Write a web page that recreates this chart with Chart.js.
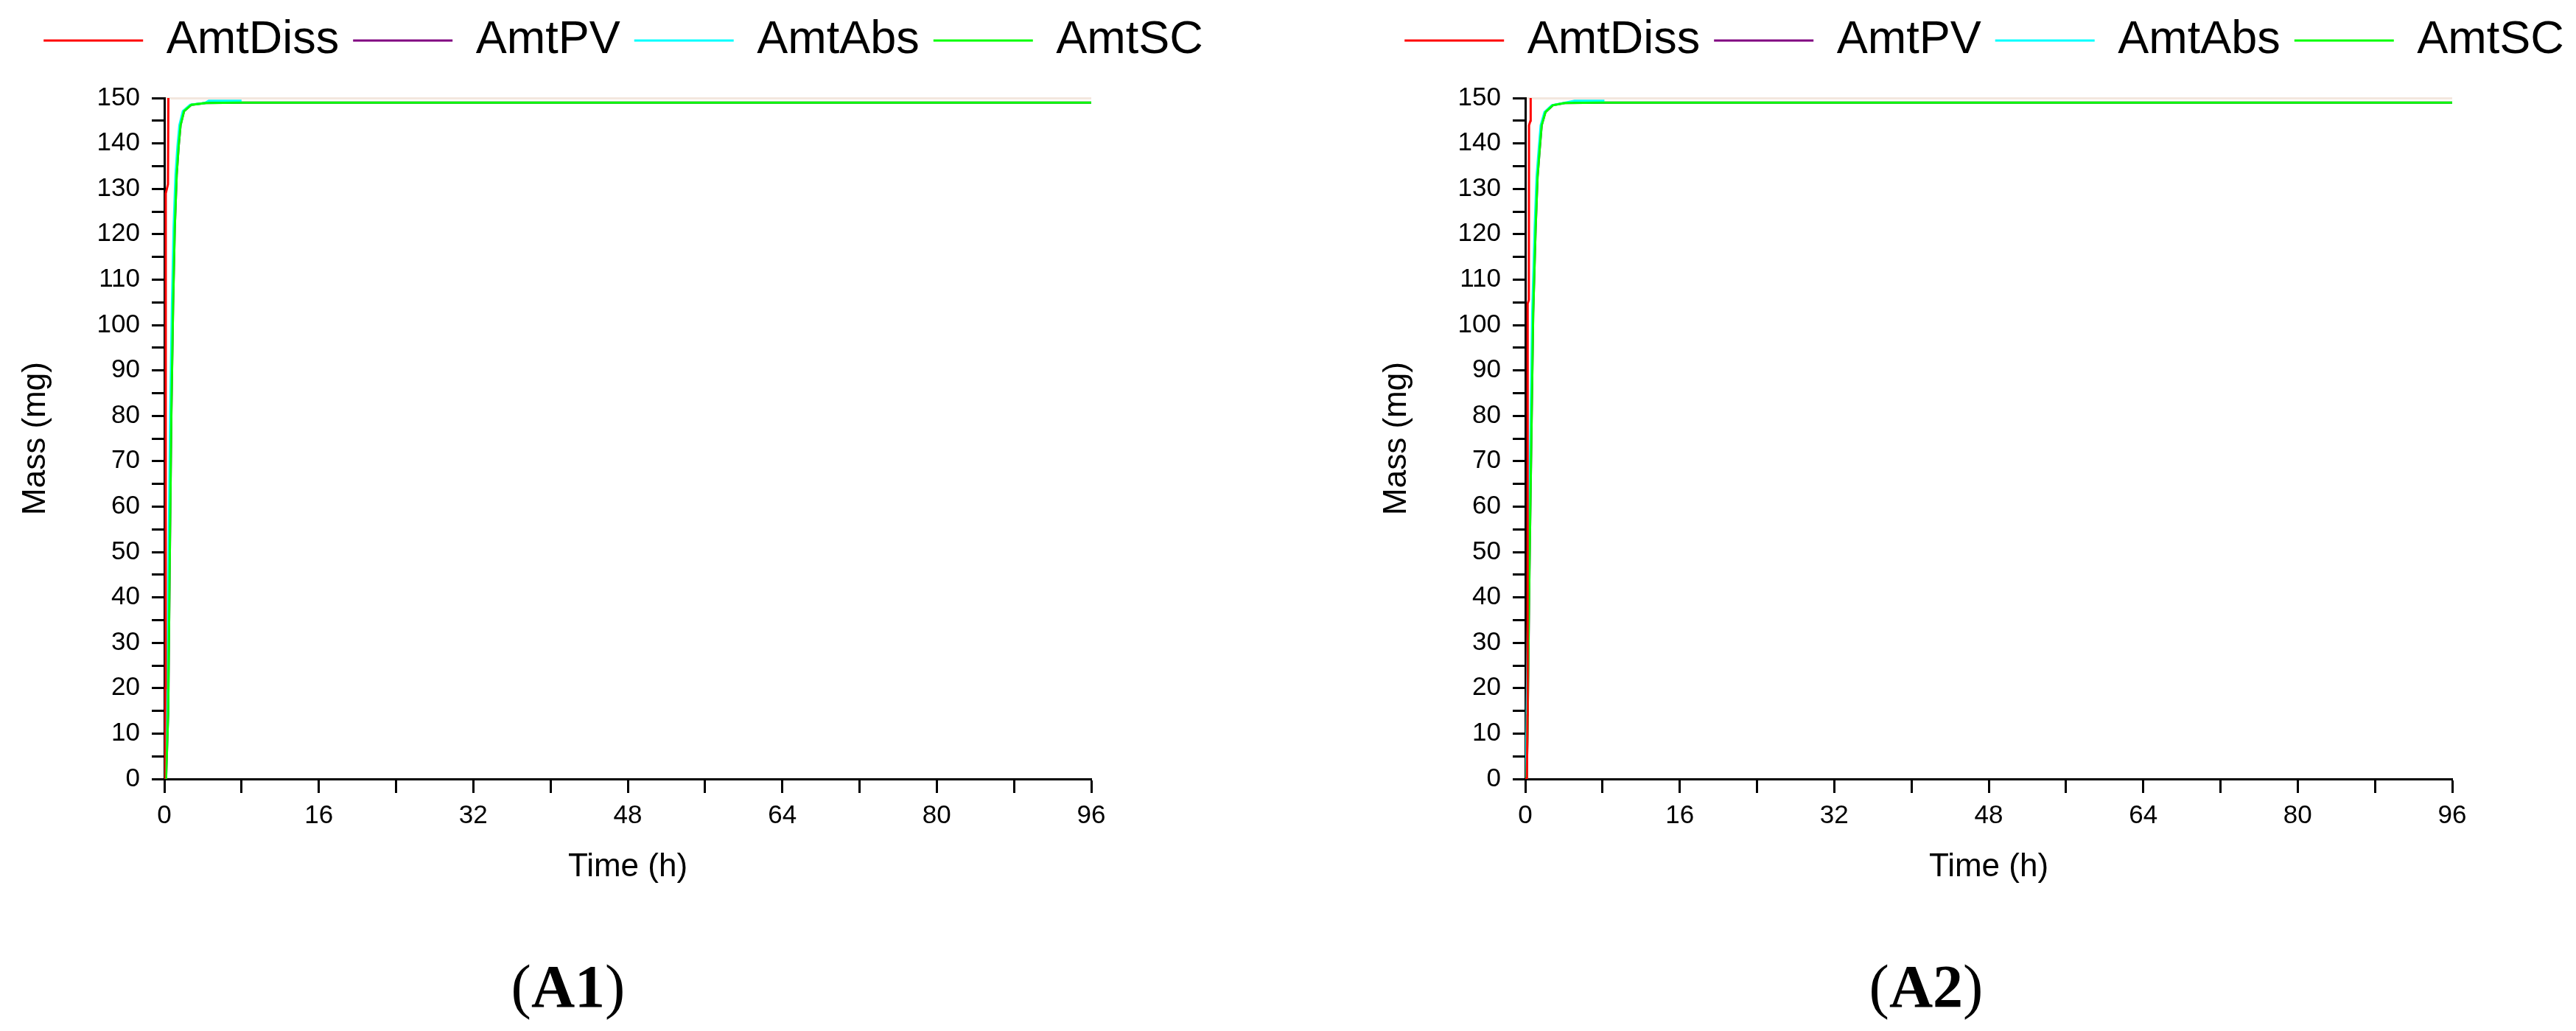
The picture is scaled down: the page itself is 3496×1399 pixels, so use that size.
<!DOCTYPE html>
<html lang="en">
<head>
    <meta charset="UTF-8">
    <title>Mass vs Time</title>
    <style>
        body { margin: 0; background: #fff; overflow: hidden; width: 3496px; height: 1399px; position: relative; }
        .panel { position: absolute; top: 0; }
        .caption {
            position: absolute;
            transform: translate(-50%, -50%);
            font-family: "Liberation Serif", "Times New Roman", serif;
            font-size: 82px;
            color: #000;
            white-space: nowrap;
        }
    </style>
    <script src="https://cdn.jsdelivr.net/npm/chart.js"></script>
</head>
<body>
    <div class="panel" style="left:0px"><canvas id="chartA1" width="1692" height="1230"></canvas></div>
    <div class="panel" style="left:1847px"><canvas id="chartA2" width="1692" height="1230"></canvas></div>
    <div class="caption" style="left:771px; top:1339px">(<b>A1</b>)</div>
    <div class="caption" style="left:2614px; top:1339px">(<b>A2</b>)</div>

<script>
    // series names (legend order)
    const seriesNames = ['AmtDiss', 'AmtPV', 'AmtAbs', 'AmtSC'];
    const seriesColors = ['#ff0000', '#800080', '#00ffff', '#00ff00'];

    // axis ticks
    const xTicks = [0, 16, 32, 48, 64, 80, 96];
    const yTicks = [0, 10, 20, 30, 40, 50, 60, 70, 80, 90, 100, 110, 120, 130, 140, 150];

    // panel A1 - time (h) / mass (mg)
    const diss1T = [0, 0.12, 0.15, 0.38, 0.42, 0.5];
    const diss1M = [0, 20, 129, 131, 150, 150];
    const pv1T = [0, 0.18, 0.4, 0.58, 0.73, 0.91, 1.08, 1.28, 1.48, 1.68, 2.04, 2.8, 4.3, 8, 96];
    const pv1M = [0, 0, 14.6, 51.8, 80.8, 104.6, 121.3, 133.1, 139.3, 144.0, 147.1, 148.5, 148.9, 149, 149];
    const abs1T = [0, 0.06, 0.28, 0.46, 0.61, 0.79, 0.96, 1.16, 1.36, 1.56, 1.92, 2.68, 4.2, 4.6, 8];
    const abs1M = [0, 0, 14.6, 51.8, 80.8, 104.6, 121.3, 133.1, 139.3, 144.0, 147.1, 148.5, 148.9, 149.4, 149.4];
    const sc1T = [0, 0.18, 0.4, 0.58, 0.73, 0.91, 1.08, 1.28, 1.48, 1.68, 2.04, 2.8, 4.3, 8, 96];
    const sc1M = [0, 0, 14.6, 51.8, 80.8, 104.6, 121.3, 133.1, 139.3, 144.0, 147.1, 148.5, 148.9, 149, 149];

    // panel A2
    const diss2T = [0, 0.17, 0.23, 0.25, 0.37, 0.39, 0.54, 0.56, 0.65];
    const diss2M = [0, 0, 14, 104.7, 105.5, 144, 145, 150, 150];
    const pv2T = [0, 0.15, 0.23, 0.43, 0.64, 0.82, 1.07, 1.27, 1.5, 1.7, 2.09, 2.85, 4.1, 8, 96];
    const pv2M = [0, 0, 10.4, 45.6, 76.7, 102.6, 121.2, 132.6, 138.9, 144.0, 146.9, 148.4, 148.9, 149, 149];
    const abs2T = [0, 0.05, 0.13, 0.33, 0.54, 0.72, 0.97, 1.17, 1.4, 1.6, 1.99, 2.75, 4.0, 5.1, 8.2];
    const abs2M = [0, 0, 10.4, 45.6, 76.7, 102.6, 121.2, 132.6, 138.9, 144.0, 146.9, 148.4, 148.9, 149.4, 149.4];
    const sc2T = [0, 0.15, 0.23, 0.43, 0.64, 0.82, 1.07, 1.27, 1.5, 1.7, 2.09, 2.85, 4.1, 8, 96];
    const sc2M = [0, 0, 10.4, 45.6, 76.7, 102.6, 121.2, 132.6, 138.9, 144.0, 146.9, 148.4, 148.9, 149, 149];

    Chart.defaults.font.family = '"Liberation Sans", Arial, sans-serif';
    Chart.defaults.color = '#000';

    function pts(t, m) {
        return t.map((v, i) => ({ x: v, y: m[i] }));
    }

    // extra space between legend and plot
    const legendGap = {
        id: 'legendGap',
        beforeInit(chart) {
            const fit = chart.legend.fit;
            chart.legend.fit = function () {
                fit.call(this);
                this.height += 36.5;
            };
        }
    };

    // drawing order: AmtDiss on top, then AmtSC, AmtAbs, AmtPV
    const drawOrder = [0, 3, 2, 1];

    function makeChart(id, series) {
        const datasets = series.map((s, i) => ({
            label: seriesNames[i],
            data: pts(s[0], s[1]),
            borderColor: seriesColors[i],
            backgroundColor: seriesColors[i],
            borderWidth: 3,
            pointRadius: 0,
            tension: 0,
            fill: false,
            order: drawOrder[i]
        }));

        return new Chart(document.getElementById(id), {
            type: 'line',
            data: { datasets: datasets },
            plugins: [legendGap],
            options: {
                responsive: false,
                animation: false,
                events: [],
                layout: { padding: { top: 4.5, left: 0, right: 0, bottom: 0 } },
                plugins: {
                    tooltip: { enabled: false },
                    legend: {
                        position: 'top',
                        labels: {
                            usePointStyle: true,
                            pointStyle: 'line',
                            pointStyleWidth: 135,
                            padding: 19,
                            color: '#000',
                            font: { size: 63 },
                            sort: (a, b) => a.datasetIndex - b.datasetIndex
                        }
                    }
                },
                scales: {
                    x: {
                        type: 'linear',
                        min: 0,
                        max: 96,
                        afterFit: (scale) => { scale.height = 173; },
                        ticks: {
                            stepSize: 8,
                            padding: 10,
                            font: { size: 35 },
                            color: '#000',
                            maxRotation: 0,
                            autoSkip: false,
                            callback: (v) => xTicks.includes(v) ? String(v) : ''
                        },
                        grid: {
                            drawOnChartArea: false,
                            drawTicks: true,
                            tickLength: 19,
                            tickWidth: 3,
                            tickColor: '#000'
                        },
                        border: { display: true, color: '#000', width: 3 },
                        title: {
                            display: true,
                            text: 'Time (h)',
                            font: { size: 44 },
                            color: '#000',
                            padding: { top: 0, bottom: 26.6 }
                        }
                    },
                    y: {
                        type: 'linear',
                        position: 'left',
                        min: 0,
                        max: 150,
                        afterFit: (scale) => { scale.width = 223; },
                        ticks: {
                            stepSize: 5,
                            padding: 16,
                            font: { size: 35 },
                            color: '#000',
                            autoSkip: false,
                            callback: (v) => yTicks.includes(v) ? String(v) : ''
                        },
                        grid: {
                            drawOnChartArea: true,
                            color: (c) => (c.tick && c.tick.value === 150) ? '#f3e7de' : 'rgba(0,0,0,0)',
                            lineWidth: 3,
                            drawTicks: true,
                            tickLength: 17,
                            tickWidth: 3,
                            tickColor: '#000'
                        },
                        border: { display: true, color: '#000', width: 3 },
                        title: {
                            display: true,
                            text: 'Mass (mg)',
                            font: { size: 44 },
                            color: '#000',
                            padding: { top: 22.6, bottom: 0 }
                        }
                    },
                    // empty right margin
                    yRight: {
                        type: 'linear',
                        position: 'right',
                        min: 0,
                        max: 1,
                        afterFit: (scale) => { scale.width = 211; },
                        ticks: { display: false },
                        grid: { display: false },
                        border: { display: false }
                    }
                }
            }
        });
    }

    makeChart('chartA1', [[diss1T, diss1M], [pv1T, pv1M], [abs1T, abs1M], [sc1T, sc1M]]);
    makeChart('chartA2', [[diss2T, diss2M], [pv2T, pv2M], [abs2T, abs2M], [sc2T, sc2M]]);
</script>
</body>
</html>
